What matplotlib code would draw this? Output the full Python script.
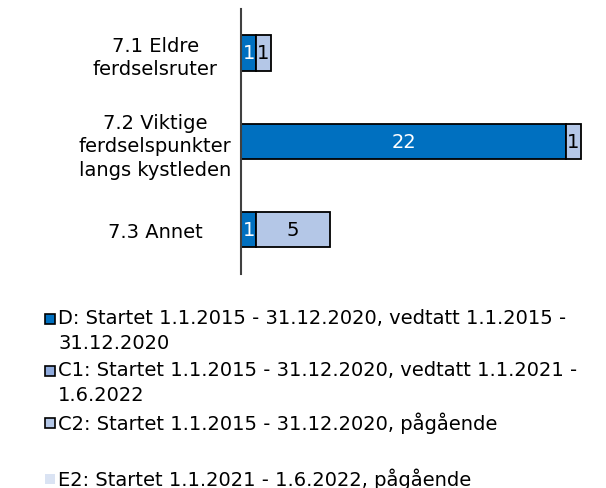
import numpy as np
import matplotlib.pyplot as plt
from matplotlib.patches import Rectangle

plt.rcParams['font.family'] = ['DejaVu Sans']

# data
categories = ['7.1 Eldre\nferdselsruter',
              '7.2 Viktige\nferdselspunkter\nlangs kystleden',
              '7.3 Annet']
d_vals = [1, 22, 1]
c1_vals = [0, 0, 0]
c2_vals = [1, 1, 5]

series_labels = ['D: Startet 1.1.2015 - 31.12.2020, vedtatt 1.1.2015 -\n31.12.2020',
                 'C1: Startet 1.1.2015 - 31.12.2020, vedtatt 1.1.2021 -\n1.6.2022',
                 'C2: Startet 1.1.2015 - 31.12.2020, pågående']
e2_label = 'E2: Startet 1.1.2021 - 1.6.2022, pågående'

colors = ['#0070C0', '#8FAADC', '#B4C7E7']
e2_color = '#DAE3F3'

W, H = 606, 489
fig = plt.figure(figsize=(W / 100, H / 100), dpi=100)
ax = fig.add_axes([0.398, 0.438, 0.585, 0.542])

y = np.arange(len(categories))
h = 0.4
fs = 14

left = np.zeros(len(categories))
for vals, col, txtcol in [(d_vals, colors[0], 'white'),
                          (c1_vals, colors[1], 'black'),
                          (c2_vals, colors[2], 'black')]:
    vals = np.array(vals, dtype=float)
    bars = ax.barh(y, vals, left=left, height=h, color=col,
                   edgecolor='black', linewidth=1.3)
    for b, v, l in zip(bars, vals, left):
        if v > 0:
            ax.text(l + v / 2, b.get_y() + h / 2, f'{int(v)}', ha='center',
                    va='center', color=txtcol, fontsize=fs)
    left = left + vals

ax.set_xlim(0, 24)
ax.set_ylim(2.5, -0.5)
ax.set_xticks([])
ax.set_yticks(y)
ax.set_yticklabels(categories, fontsize=fs, ha='center', linespacing=1.3)
ax.tick_params(axis='y', length=0, pad=62)
for s in ['top', 'right', 'bottom']:
    ax.spines[s].set_visible(False)
ax.spines['left'].set_color('#404040')
ax.spines['left'].set_linewidth(1.5)

# legend drawn by hand so the marker sits on the first line of each label
def legend_entry(label, color, ypx, edge=True):
    sq = 10
    fig.add_artist(Rectangle((45 / W, 1 - (ypx + sq / 2) / H), sq / W, sq / H,
                             transform=fig.transFigure, facecolor=color,
                             edgecolor='black' if edge else 'none',
                             linewidth=1.2))
    fig.text(58 / W, 1 - (ypx - 11) / H, label, fontsize=fs, va='top',
             ha='left', linespacing=1.42)

pitch = 26
ypos = 320
for lab, col in zip(series_labels, colors):
    legend_entry(lab, col, ypos)
    ypos += pitch * (lab.count('\n') + 1)
legend_entry(e2_label, e2_color, 480, edge=False)

fig.savefig('out.png', dpi=100)
